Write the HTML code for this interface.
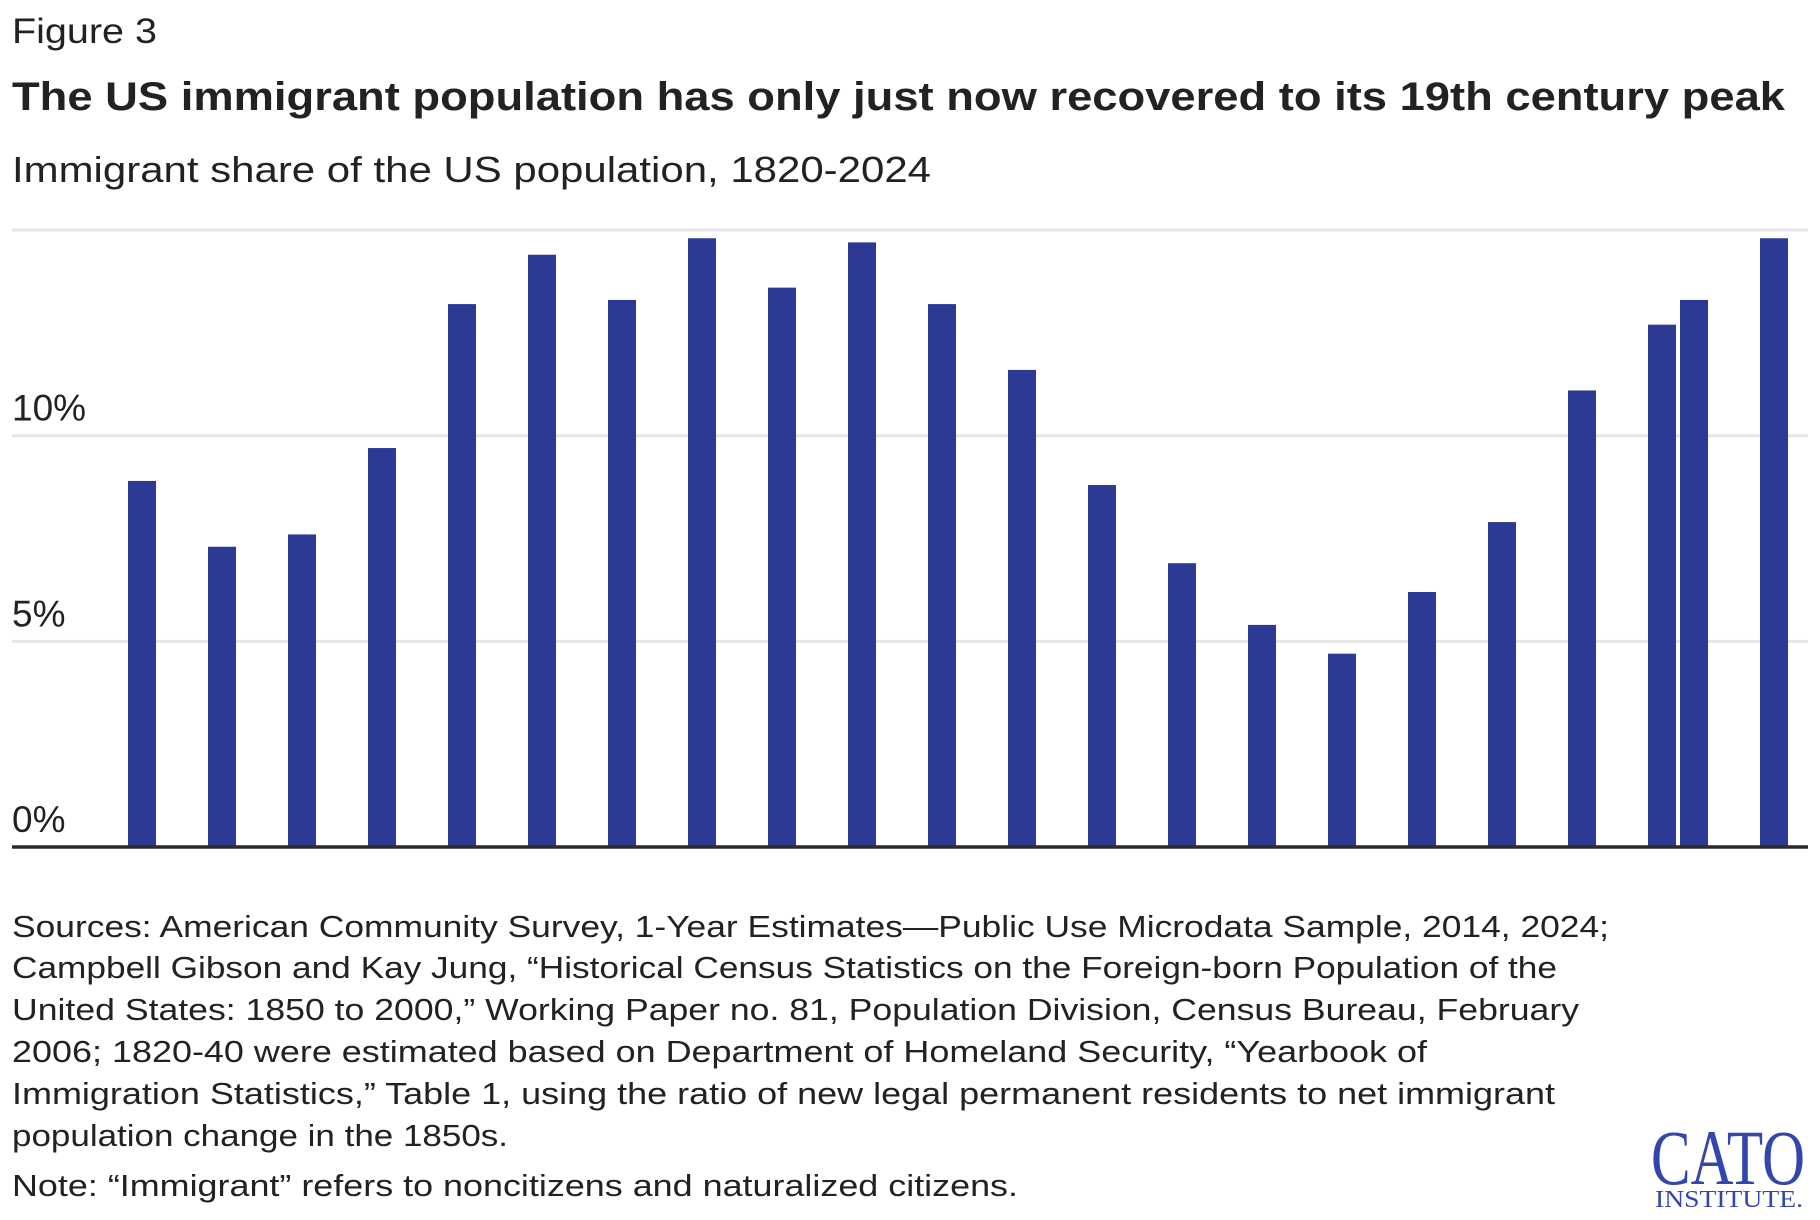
<!DOCTYPE html>
<html><head><meta charset="utf-8"><style>
html,body{margin:0;padding:0;background:#fff;}
svg{display:block;}
text{font-family:"Liberation Sans",sans-serif;fill:#222;}
</style></head>
<body>
<svg id="chart" width="1820" height="1220" viewBox="0 0 1820 1220" xmlns="http://www.w3.org/2000/svg">
<text x="12" y="43" font-size="35" textLength="145" lengthAdjust="spacingAndGlyphs">Figure 3</text>
<text x="12" y="110" font-size="40" font-weight="bold" fill="#111" textLength="1773" lengthAdjust="spacingAndGlyphs">The US immigrant population has only just now recovered to its 19th century peak</text>
<text x="12" y="182" font-size="36" textLength="919" lengthAdjust="spacingAndGlyphs">Immigrant share of the US population, 1820-2024</text>
<g id="grid"></g>
<g id="bars"></g>
<g id="ylabels"></g>
<line x1="12" x2="1808" y1="847" y2="847" stroke="#2b2b2b" stroke-width="3.5"/>
<g font-size="31">
<text x="12" y="937" textLength="1597" lengthAdjust="spacingAndGlyphs">Sources: American Community Survey, 1-Year Estimates—Public Use Microdata Sample, 2014, 2024;</text>
<text x="12" y="978" textLength="1545" lengthAdjust="spacingAndGlyphs">Campbell Gibson and Kay Jung, “Historical Census Statistics on the Foreign-born Population of the</text>
<text x="12" y="1020" textLength="1567" lengthAdjust="spacingAndGlyphs">United States: 1850 to 2000,” Working Paper no. 81, Population Division, Census Bureau, February</text>
<text x="12" y="1062" textLength="1415" lengthAdjust="spacingAndGlyphs">2006; 1820-40 were estimated based on Department of Homeland Security, “Yearbook of</text>
<text x="12" y="1104" textLength="1543" lengthAdjust="spacingAndGlyphs">Immigration Statistics,” Table 1, using the ratio of new legal permanent residents to net immigrant</text>
<text x="12" y="1146" textLength="496" lengthAdjust="spacingAndGlyphs">population change in the 1850s.</text>
<text x="12" y="1196" textLength="1006" lengthAdjust="spacingAndGlyphs">Note: “Immigrant” refers to noncitizens and naturalized citizens.</text>
</g>
<g>
<text x="1651" y="1184" font-size="78" style="fill:#3346b0;font-family:'Liberation Serif',serif" textLength="154" lengthAdjust="spacingAndGlyphs">CATO</text>
<text x="1655" y="1207" font-size="24" style="fill:#3346b0;font-family:'Liberation Serif',serif" textLength="148" lengthAdjust="spacingAndGlyphs">INSTITUTE.</text>
</g>
</svg>
<script>
const years = [1820,1830,1840,1850,1860,1870,1880,1890,1900,1910,1920,1930,1940,1950,1960,1970,1980,1990,2000,2010,2014,2024];
const shares = [8.9,7.3,7.6,9.7,13.2,14.4,13.3,14.8,13.6,14.7,13.2,11.6,8.8,6.9,5.4,4.7,6.2,7.9,11.1,12.7,13.3,14.8];
const yTicks = [0,5,10,15];
const yTickLabels = ["0%","5%","10%",""];
const NS = "http://www.w3.org/2000/svg";
function xScale(yr){ return 142 + (yr-1820)*8.0; }
function yScale(v){ return 847 - v*41.13; }
const grid = document.getElementById('grid');
const ylab = document.getElementById('ylabels');
yTicks.forEach((t,i)=>{
  if(t>0){
    const l=document.createElementNS(NS,'line');
    
    
    l.setAttribute('x1',12);l.setAttribute('x2',1808);
    l.setAttribute('y1',yScale(t));l.setAttribute('y2',yScale(t));
    l.setAttribute('stroke','#e6e6e6');l.setAttribute('stroke-width','3');
    grid.appendChild(l);
  }
  if(yTickLabels[i]){
    const tx=document.createElementNS(NS,'text');
    
    
    tx.setAttribute('x',12);tx.setAttribute('y',yScale(t)-15);
    tx.setAttribute('font-size','37');
    tx.textContent=yTickLabels[i];
    ylab.appendChild(tx);
  }
});
const bars=document.getElementById('bars');
years.forEach((yr,i)=>{
  const r=document.createElementNS(NS,'rect');
  
  
  const cx=xScale(yr);
  r.setAttribute('x',cx-14);r.setAttribute('width',28);
  r.setAttribute('y',yScale(shares[i]));
  r.setAttribute('height',847-yScale(shares[i]));
  r.setAttribute('fill','#2d3a93');
  bars.appendChild(r);
});
</script>
</body></html>
